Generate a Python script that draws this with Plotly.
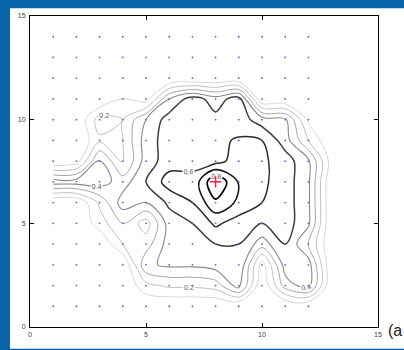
import plotly.graph_objects as go

# grid coordinates of the field
grid_x = [1, 2, 3, 4, 5, 6, 7, 8, 9, 10, 11, 12, 13]
grid_y = [1, 2, 3, 4, 5, 6, 7, 8, 9, 10, 11, 12]

# field values, one list per row (y = 1 ... 12), columns x = 1 ... 13
row_y1 = [0, 0, 0, 0, 0, 0, 0, 0, 0, 0, 0, 0, 0]
row_y2 = [0, 0, 0, 0, 0.17, 0.22, 0.22, 0.25, 0.45, 0, 0.35, 0.45, 0]
row_y3 = [0, 0, 0, 0, 0.38, 0.42, 0.42, 0.45, 0.5, 0.05, 0.45, 0.45, 0]
row_y4 = [0, 0, 0, 0.2, 0.25, 0.45, 0.48, 0.5, 0.5, 0.35, 0.5, 0.3, 0]
row_y5 = [0, 0, 0.15, 0.3, 0.15, 0.45, 0.5, 0.62, 0.55, 0.5, 0.55, 0.42, 0]
row_y6 = [0, 0, 0.22, 0.45, 0.4, 0.52, 0.6, 0.78, 0.68, 0.6, 0.55, 0.42, 0]
row_y7 = [0.45, 0.45, 0.45, 0.35, 0.5, 0.65, 0.62, 0.9, 0.69, 0.62, 0.55, 0.42, 0]
row_y8 = [0, 0.05, 0.42, 0.18, 0.45, 0.55, 0.58, 0.56, 0.65, 0.62, 0.55, 0.42, 0.05]
row_y9 = [0, 0, 0.18, 0.2, 0.45, 0.55, 0.57, 0.58, 0.61, 0.6, 0.45, 0.2, 0]
row_y10 = [0, 0, 0.25, 0.2, 0.4, 0.55, 0.57, 0.53, 0.55, 0.45, 0.42, 0.08, 0]
row_y11 = [0, 0, 0, 0.1, 0.05, 0.4, 0.55, 0.45, 0.55, 0, 0, 0, 0]
row_y12 = [0, 0, 0, 0, 0, 0, 0, 0, 0, 0, 0, 0, 0]

z_rows = [row_y1, row_y2, row_y3, row_y4, row_y5, row_y6,
          row_y7, row_y8, row_y9, row_y10, row_y11, row_y12]

# contour levels, which are labeled
levels = [0.1, 0.2, 0.3, 0.4, 0.5, 0.6, 0.7, 0.8]
labeled = [False, True, False, True, False, True, False, True]

# measurement points (blue dots)
dot_x = [1, 2, 3, 4, 5, 6, 7, 8, 9, 10, 11, 12]
dot_y = [1, 2, 3, 4, 5, 6, 7, 8, 9, 10, 11, 12, 13, 14]

# peak marker
peak_x = [8]
peak_y = [7]

tick_vals = [0, 5, 10, 15]
tick_text = ["0", "5", "10", "15"]

# styling per level
level_colors = ["#d6d6d6", "#c0c0c0", "#a6a6a6", "#888888",
                "#3c3c3c", "#2a2a2a", "#151515", "#000000"]
level_widths = [1.0, 1.0, 1.0, 1.1, 1.5, 1.5, 1.6, 1.7]

label_font = dict(size=7, color="#555555", family="Arial")

fig = go.Figure()
for lev, lab, col, wid in zip(levels, labeled, level_colors, level_widths):
    fig.add_trace(go.Contour(
        x=grid_x, y=grid_y, z=z_rows,
        contours=dict(coloring="none", start=lev, end=lev, size=0.1,
                      showlabels=lab, labelfont=label_font, labelformat=".1f"),
        line=dict(width=wid, color=col), showscale=False, hoverinfo="skip",
    ))

dx, dy = [], []
for yy in dot_y:
    for xx in dot_x:
        dx.append(xx)
        dy.append(yy)
fig.add_trace(go.Scatter(
    x=dx, y=dy, mode="markers",
    marker=dict(size=1.8, color="#5a5aff"), hoverinfo="skip", showlegend=False,
))
fig.add_trace(go.Scatter(
    x=peak_x, y=peak_y, mode="markers",
    marker=dict(symbol="cross-thin", size=8, line=dict(color="#ff2040", width=1.5)),
    hoverinfo="skip", showlegend=False,
))

axis_common = dict(
    range=[0, 15], tickvals=tick_vals, ticktext=tick_text,
    ticks="inside", ticklen=4, tickcolor="black",
    showline=True, linecolor="black", linewidth=1, mirror="ticks",
    showgrid=False, zeroline=False,
    tickfont=dict(size=7, color="#444444", family="Arial"),
)

fig.update_layout(
    width=404, height=350,
    margin=dict(l=30, r=26, t=15, b=18),
    paper_bgcolor="#0766ab",
    plot_bgcolor="white",
    showlegend=False,
    xaxis=dict(**axis_common, ticklabelstandoff=1),
    yaxis=dict(**axis_common, ticklabelstandoff=2),
    shapes=[dict(type="rect", xref="paper", yref="paper",
                 x0=-0.0575, x1=1.1, y0=-0.07, y1=1.0253,
                 fillcolor="white", line=dict(width=0), layer="below")],
    annotations=[dict(text="(a", xref="paper", yref="paper", x=1.022, y=-0.01,
                      xanchor="left", yanchor="middle", showarrow=False,
                      font=dict(size=16, color="#222222", family="Arial"))],
)

fig.write_html("out.html")
